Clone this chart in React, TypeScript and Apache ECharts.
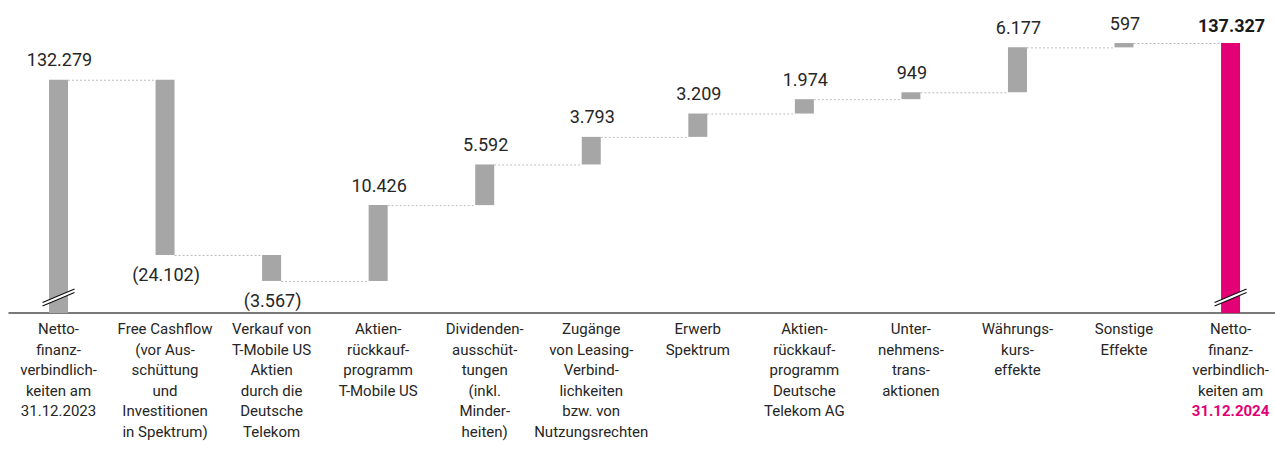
import React, { useEffect, useRef } from "react";
import * as echarts from "echarts";

const categories: string[] = [
  "Netto-\nfinanz-\nverbindlich-\nkeiten am\n31.12.2023",
  "Free Cashflow\n(vor Aus-\nschüttung\nund\nInvestitionen\nin Spektrum)",
  "Verkauf von\nT-Mobile US\nAktien\ndurch die\nDeutsche\nTelekom",
  "Aktien-\nrückkauf-\nprogramm\nT-Mobile US",
  "Dividenden-\nausschüt-\ntungen\n(inkl.\nMinder-\nheiten)",
  "Zugänge\nvon Leasing-\nVerbind-\nlichkeiten\nbzw. von\nNutzungsrechten",
  "Erwerb\nSpektrum",
  "Aktien-\nrückkauf-\nprogramm\nDeutsche\nTelekom AG",
  "Unter-\nnehmens-\ntrans-\naktionen",
  "Währungs-\nkurs-\neffekte",
  "Sonstige\nEffekte",
  "Netto-\nfinanz-\nverbindlich-\nkeiten am\n{m|31.12.2024}",
];

const startValue = 132279;
const changes: number[] = [-24102, -3567, 10426, 5592, 3793, 3209, 1974, 949, 6177, 597];
const endValue = 137327;

const Y_MIN = 100200;
const Y_MAX = 137400;

const GRAY = "#a6a6a6";
const MAGENTA = "#e20074";
const TEXT = "#262626";
const FONT = "Roboto";

function fmt(v: number): string {
  const s = Math.abs(v).toString().replace(/\B(?=(\d{3})+(?!\d))/g, ".");
  return v < 0 ? `(${s})` : s;
}

export default function App() {
  const ref = useRef<HTMLDivElement>(null);

  useEffect(() => {
    if (!ref.current) return;
    const chart = echarts.init(ref.current, undefined, { renderer: "svg" });

    // bars: [index, low, high, kind(0 total,1 up,2 down), label, color flag]
    const bars: any[] = [];
    const connectors: any[] = [];
    bars.push([0, Y_MIN, startValue, 0, fmt(startValue), 0]);
    let level = startValue;
    connectors.push([0, level]);
    changes.forEach((c, k) => {
      const i = k + 1;
      const next = level + c;
      bars.push([i, Math.min(level, next), Math.max(level, next), c < 0 ? 2 : 1, fmt(c), 0]);
      level = next;
      connectors.push([i, level]);
    });
    bars.push([changes.length + 1, Y_MIN, endValue, 0, fmt(endValue), 1]);

    const HALF = 9.5;

    chart.setOption({
      animation: false,
      grid: { left: 9, right: 0, top: 42.5, bottom: 151, containLabel: false },
      xAxis: {
        type: "value",
        min: -0.4646,
        max: 11.417,
        splitLine: { show: false },
        axisTick: { show: false },
        axisLine: { show: true, lineStyle: { color: "#4d4d4d", width: 1.5 } },
        axisLabel: {
          customValues: categories.map((_, i) => i),
          formatter: (v: number) => categories[Math.round(v)],
          color: TEXT,
          fontFamily: FONT,
          fontSize: 15,
          lineHeight: 20.5,
          margin: 6,
          align: "center",
          verticalAlign: "top",
          hideOverlap: false,
          showMinLabel: true,
          showMaxLabel: true,
          rich: {
            m: { color: MAGENTA, fontWeight: "bold", fontFamily: FONT, fontSize: 15, lineHeight: 20.5 },
          },
        },
      },
      yAxis: { type: "value", min: Y_MIN, max: Y_MAX, show: false, splitLine: { show: false } },
      series: [
        {
          type: "custom",
          data: connectors.slice(0, connectors.length),
          z: 1,
          renderItem: (params: any, api: any) => {
            const i = api.value(0);
            const v = api.value(1);
            const p1 = api.coord([i, v]);
            const p2 = api.coord([i + 1, v]);
            return {
              type: "line",
              shape: { x1: p1[0] + HALF, y1: p1[1] + 0.5, x2: p2[0] - HALF, y2: p2[1] + 0.5 },
              style: { stroke: "#bdbdbd", lineWidth: 1, lineDash: [2, 2] },
            };
          },
        },
        {
          type: "custom",
          data: bars,
          z: 2,
          clip: false,
          renderItem: (params: any, api: any) => {
            const d = bars[params.dataIndex];
            const i = d[0];
            const top = api.coord([i, d[2]]);
            const bot = api.coord([i, d[1]]);
            const cx = top[0];
            const kind = d[3];
            const children: any[] = [
              {
                type: "rect",
                shape: { x: cx - HALF, y: top[1], width: HALF * 2, height: bot[1] - top[1] },
                style: { fill: d[5] ? MAGENTA : GRAY },
              },
            ];
            const below = kind === 2;
            children.push({
              type: "text",
              style: {
                text: d[4],
                x: cx + 1,
                y: below ? bot[1] + 20 : top[1] - (d[5] ? 18 : 20),
                align: "center",
                verticalAlign: "middle",
                fill: d[5] ? "#1a1a1a" : TEXT,
                fontFamily: FONT,
                fontSize: 18,
                fontWeight: d[5] ? "bold" : "normal",
              },
            });
            if (kind === 0) {
              const by = bot[1];
              children.push({
                type: "polygon",
                shape: {
                  points: [
                    [cx - 16, by - 7],
                    [cx + 16, by - 20.5],
                    [cx + 16, by - 24],
                    [cx - 16, by - 10.5],
                  ],
                },
                style: { fill: "#ffffff" },
              });
              children.push({
                type: "line",
                shape: { x1: cx - 16, y1: by - 10.5, x2: cx + 16, y2: by - 24 },
                style: { stroke: "#111", lineWidth: 1.2 },
              });
              children.push({
                type: "line",
                shape: { x1: cx - 16, y1: by - 7, x2: cx + 16, y2: by - 20.5 },
                style: { stroke: "#111", lineWidth: 1.2 },
              });
            }
            return { type: "group", children };
          },
        },
      ],
    });

    return () => chart.dispose();
  }, []);

  return (
    <div
      ref={ref}
      style={{ position: "fixed", left: 0, top: 0, width: 1275, height: 464, background: "#fff" }}
    />
  );
}
